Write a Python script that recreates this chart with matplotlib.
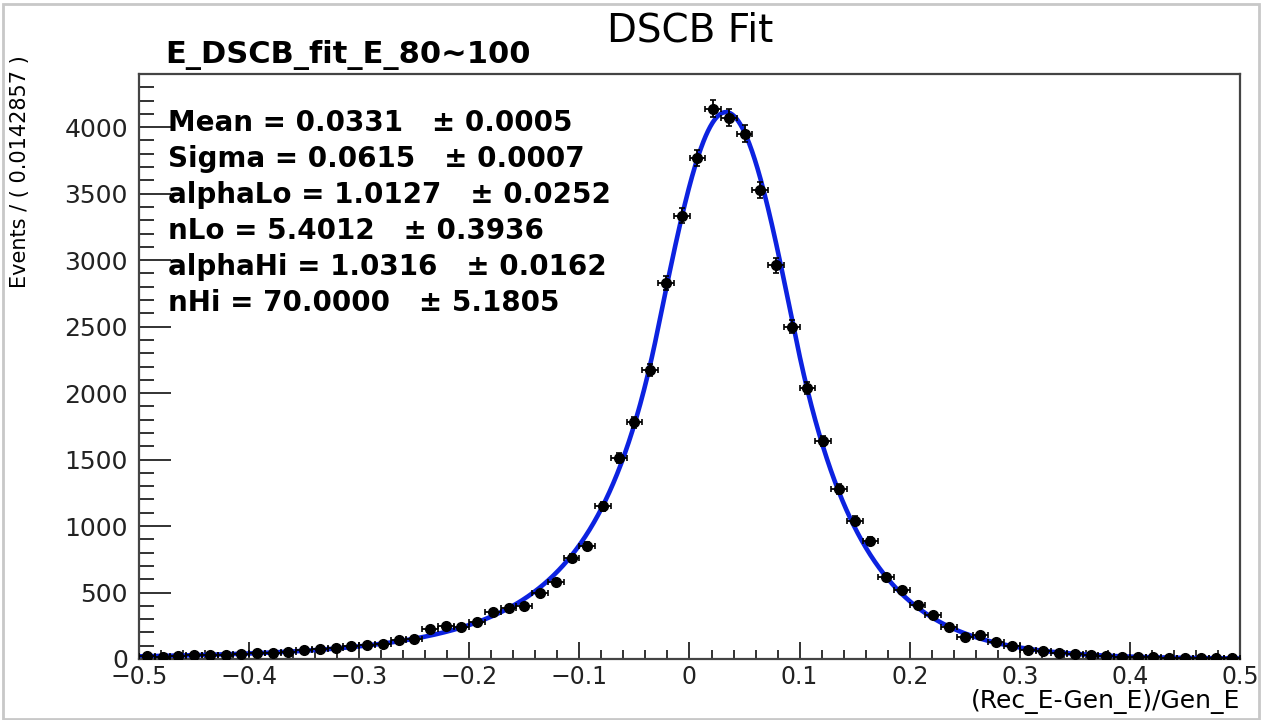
import numpy as np
import matplotlib
matplotlib.use("Agg")
import matplotlib.pyplot as plt
from matplotlib.ticker import MultipleLocator
from matplotlib.patches import Rectangle

# histogram: 70 bins of width 1/70 on [-0.5, 0.5]
x_lo, x_hi, n_bins = -0.5, 0.5, 70
counts = [25, 12, 22, 28, 30, 28, 35, 45, 45, 55,
          65, 75, 80, 95, 105, 115, 140, 150, 225, 250,
          240, 280, 350, 385, 395, 495, 580, 760, 850, 1150,
          1510, 1780, 2175, 2830, 3335, 3770, 4140, 4070, 3950, 3530,
          2960, 2500, 2035, 1640, 1280, 1040, 890, 615, 520, 405,
          330, 240, 165, 180, 130, 100, 70, 60, 45, 35,
          28, 22, 18, 15, 12, 10, 9, 8, 7, 6]

# fit results
param_names = ["Mean", "Sigma", "alphaLo", "nLo", "alphaHi", "nHi"]
param_values = [0.0331, 0.0615, 1.0127, 5.4012, 1.0316, 70.0000]
param_errors = [0.0005, 0.0007, 0.0252, 0.3936, 0.0162, 5.1805]

title = "DSCB Fit"
subtitle = "E_DSCB_fit_E_80~100"
xlabel = "(Rec_E-Gen_E)/Gen_E"
ylabel = "Events / ( 0.0142857 )"


def dscb(x, mean, sigma, aL, nL, aH, nH):
    t = (x - mean) / sigma
    y = np.exp(-0.5 * t**2)
    lo = t < -aL
    hi = t > aH
    AL = (nL / aL) ** nL * np.exp(-0.5 * aL**2)
    BL = nL / aL - aL
    AH = (nH / aH) ** nH * np.exp(-0.5 * aH**2)
    BH = nH / aH - aH
    y[lo] = AL * (BL - t[lo]) ** (-nL)
    y[hi] = AH * (BH + t[hi]) ** (-nH)
    return y


counts = np.array(counts, dtype=float)
edges = np.linspace(x_lo, x_hi, n_bins + 1)
centers = 0.5 * (edges[1:] + edges[:-1])
bw = edges[1] - edges[0]

xs = np.linspace(x_lo, x_hi, 2000)
shape = dscb(xs, *param_values)
norm = counts.sum() * bw / np.trapezoid(shape, xs)
curve = shape * norm

W, H = 1262, 720
fig = plt.figure(figsize=(W / 100, H / 100), dpi=100)
ax = fig.add_axes([139 / W, 1 - 659 / H, (1240 - 139) / W, (659 - 74) / H])

ax.plot(xs, curve, color="#0c22e0", lw=3.3, zorder=2)
ax.errorbar(centers, counts, yerr=np.sqrt(counts), xerr=bw / 2, fmt="o",
            color="black", ms=7, elinewidth=1.3, capsize=2.5, capthick=1.2,
            zorder=3)

ax.set_xlim(x_lo, x_hi)
ax.set_ylim(0, 4400)
ax.xaxis.set_minor_locator(MultipleLocator(0.02))
ax.yaxis.set_major_locator(MultipleLocator(500))
ax.yaxis.set_minor_locator(MultipleLocator(100))
ax.set_xticks(np.arange(-0.5, 0.51, 0.1))
ax.set_xticklabels(["\u22120.5", "\u22120.4", "\u22120.3", "\u22120.2", "\u22120.1",
                    "0", "0.1", "0.2", "0.3", "0.4", "0.5"])
ax.tick_params(axis="both", which="both", direction="in", top=False, right=False,
               colors="#222222", width=1.3)
ax.tick_params(axis="y", which="major", length=23, pad=8, labelsize=18)
ax.tick_params(axis="y", which="minor", length=11)
ax.tick_params(axis="x", which="major", length=12, pad=4, labelsize=17)
ax.tick_params(axis="x", which="minor", length=6.5)
for s in ax.spines.values():
    s.set_linewidth(1.6)
    s.set_color("#444444")

fig.text(690 / W, 1 - 30 / H, title, ha="center", va="center", fontsize=28)
fig.text(165 / W, 1 - 55 / H, subtitle, ha="left", va="center", fontsize=22,
         fontweight="bold")
fig.text(1240 / W, 1 - 702 / H, xlabel, ha="right", va="center", fontsize=18)
fig.text(20 / W, 1 - 55 / H, ylabel, ha="center", va="top", rotation=90,
         fontsize=15)

row_y = 123
for name, val, err in zip(param_names, param_values, param_errors):
    fig.text(168 / W, 1 - row_y / H, f"{name} = {val:.4f}   \u00b1 {err:.4f}",
             ha="left", va="center", fontsize=20, fontweight="bold")
    row_y += 36

fig.patches.append(Rectangle((0.002, 0.002), 0.996, 0.993, transform=fig.transFigure,
                             fill=False, edgecolor="#c8c8c8", lw=2))

fig.savefig("out.png", dpi=100)
